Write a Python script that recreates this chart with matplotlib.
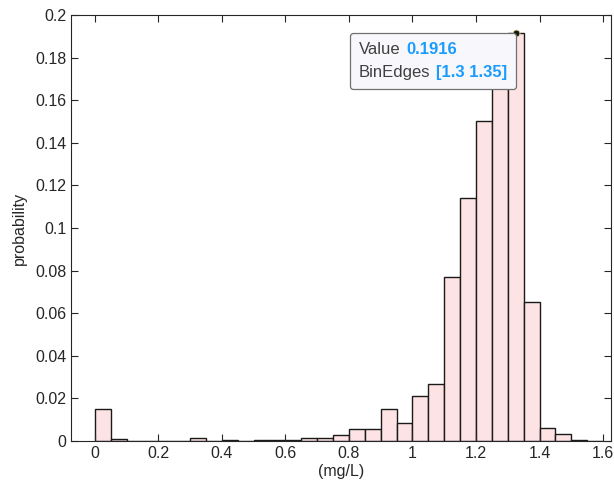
import numpy as np
import matplotlib.pyplot as plt
from matplotlib.offsetbox import TextArea, HPacker, VPacker, AnnotationBbox

# bin edges (mg/L) and probability per bin
bin_edges = np.arange(0, 1.60001, 0.05)
probability = [0.0149, 0.0008, 0, 0, 0, 0, 0.0013, 0, 0.0003, 0,
               0.0004, 0.0004, 0.0004, 0.0013, 0.0013, 0.0028, 0.0055, 0.0055,
               0.0149, 0.0083, 0.0210, 0.0266, 0.0768, 0.1140, 0.1500, 0.1700,
               0.1916, 0.0651, 0.0060, 0.0031, 0.0005, 0.0]

tip_value = 0.1916
tip_edges = (1.3, 1.35)

plt.rcParams['font.family'] = ['Arial', 'Liberation Sans', 'DejaVu Sans']

fig = plt.figure(figsize=(6.14, 4.98), dpi=100)
ax = fig.add_axes([71/614, 57/498, 540/614, 426/498])

ax.bar(bin_edges[:-1], probability, width=0.05, align='edge',
       color='#fde3e3', edgecolor='#1a1a1a', linewidth=1.0)

ax.set_xlim(-0.075, 1.625)
ax.set_ylim(0, 0.2)
ax.set_xticks(np.arange(0, 1.61, 0.2))
ax.set_xticklabels(['0', '0.2', '0.4', '0.6', '0.8', '1', '1.2', '1.4', '1.6'])
ax.set_yticks(np.arange(0, 0.201, 0.02))
ax.set_yticklabels(['0', '0.02', '0.04', '0.06', '0.08', '0.1', '0.12',
                    '0.14', '0.16', '0.18', '0.2'])
ax.tick_params(direction='in', top=True, right=True, length=5,
               labelsize=11.5, colors='#262626', width=0.8)
for s in ax.spines.values():
    s.set_color('#262626')
    s.set_linewidth(0.8)

ax.set_xlabel('(mg/L)', fontsize=11.5, color='#262626', labelpad=2)
ax.set_ylabel('probability', fontsize=11.5, color='#262626', labelpad=6)

# data tip
x_tip = (tip_edges[0] + tip_edges[1]) / 2
ax.plot([x_tip], [tip_value], 'o', color='#1a1a1a', markersize=5,
        markeredgecolor='#e8e0a0', markeredgewidth=0.6, zorder=5, clip_on=False)

gray = dict(color='#404040', fontsize=12)
blue = dict(color='#1a9bff', fontsize=12, fontweight='bold')
row1 = HPacker(children=[TextArea('Value', textprops=gray),
                         TextArea('0.1916', textprops=blue)], pad=0, sep=4)
row2 = HPacker(children=[TextArea('BinEdges', textprops=gray),
                         TextArea('[1.3 1.35]', textprops=blue)], pad=0, sep=4)
box = VPacker(children=[row1, row2], pad=0, sep=6, align='left')
ab = AnnotationBbox(box, (x_tip, tip_value), xybox=(359, 498 - 42),
                    xycoords='data', boxcoords='figure pixels',
                    box_alignment=(0, 1), pad=0.65,
                    bboxprops=dict(boxstyle='round,pad=0.65,rounding_size=0.25',
                                   facecolor='#f8f8fc', edgecolor='#707070',
                                   linewidth=0.9))
ab.set_zorder(6)
ax.add_artist(ab)

fig.savefig('out.png', dpi=100)
